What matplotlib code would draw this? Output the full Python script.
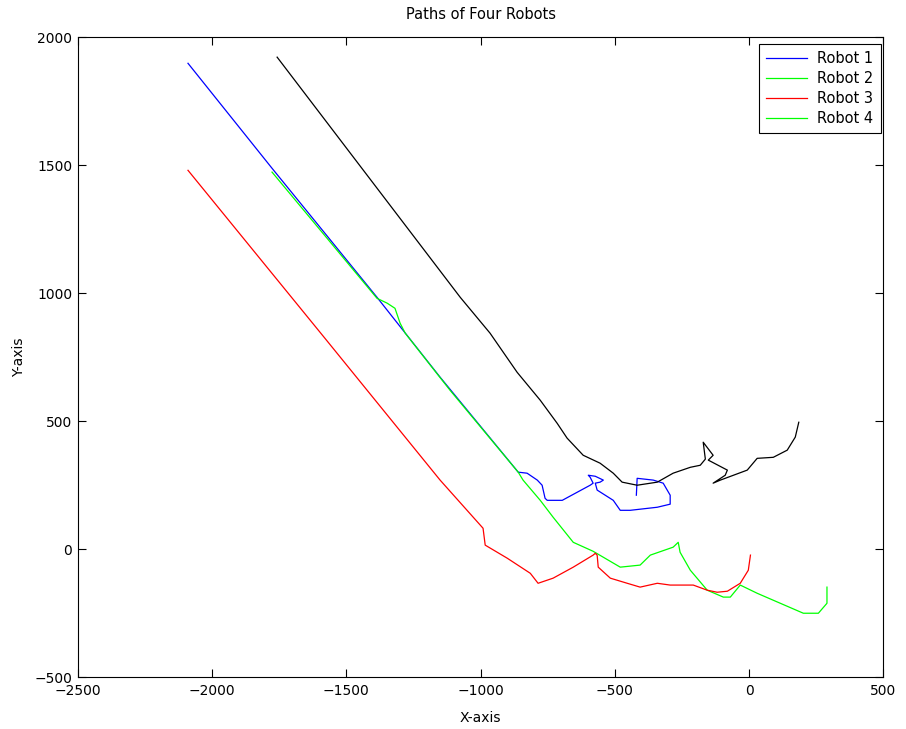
import numpy as np
import matplotlib
matplotlib.use("Agg")
import matplotlib.pyplot as plt

plt.rcParams['font.family'] = ['DejaVu Sans']

# robot paths
r1_x = [-2090, -1777, -1386, -1151, -860, -827, -789, -771, -760, -752, -696,
        -592, -581, -592, -599, -573, -543, -555, -573, -566, -506, -480,
        -443, -342, -294, -294, -320, -357, -417, -420]
r1_y = [1898, 1488, 984, 672, 301, 297, 270, 250, 199, 191, 191,
        250, 258, 281, 289, 285, 270, 262, 258, 231, 191, 152,
        152, 164, 176, 211, 258, 270, 277, 211]

r2_x = [-1777, -1386, -1348, -1319, -1300, -1281, -1114, -860, -842, -778,
        -730, -655, -581, -480, -406, -368, -283, -264, -257, -219, -156,
        -96, -70, -33, 30, 116, 202, 258, 290, 290]
r2_y = [1473, 980, 961, 941, 883, 844, 621, 301, 270, 191,
        125, 27, -8, -70, -62, -23, 8, 27, -12, -82, -160,
        -187, -187, -140, -172, -211, -250, -250, -211, -148]

r3_x = [-2090, -1580, -1151, -991, -983, -901, -815, -786, -730, -655, -581,
        -573, -566, -562, -517, -454, -406, -342, -294, -208, -156, -119,
        -81, -33, -3, 5]
r3_y = [1480, 824, 270, 82, 16, -35, -94, -133, -113, -70, -23,
        -16, -23, -70, -113, -133, -148, -133, -140, -140, -160, -168,
        -164, -133, -82, -23]

r4_x = [-1758, -1076, -965, -864, -778, -715, -678, -618, -555, -506, -473,
        -417, -342, -283, -219, -182, -163, -171, -134, -152, -81, -89,
        -134, -107, -7, 30, 90, 142, 172, 185]
r4_y = [1922, 984, 844, 691, 582, 492, 434, 367, 336, 297, 262,
        250, 262, 297, 320, 328, 352, 418, 367, 348, 309, 289,
        258, 270, 309, 355, 359, 387, 438, 496]

fig = plt.figure(figsize=(9.06, 7.29), dpi=100)
ax = fig.add_axes([0.086, 0.071, 0.889, 0.878])

l1, = ax.plot(r1_x, r1_y, color='blue', linewidth=0.9)
l2, = ax.plot(r2_x, r2_y, color='#00ff00', linewidth=0.9)
l3, = ax.plot(r3_x, r3_y, color='red', linewidth=0.9)
l4, = ax.plot(r4_x, r4_y, color='black', linewidth=0.9)

ax.set_xlim(-2500, 500)
ax.set_ylim(-500, 2000)
ax.set_xticks(np.arange(-2500, 501, 500))
ax.set_yticks(np.arange(-500, 2001, 500))
ax.tick_params(direction='in', top=True, right=True, labelsize=10, length=6)
ax.tick_params(axis='x', pad=5)
ax.tick_params(axis='y', pad=4)

ax.set_title('Paths of Four Robots', fontsize=10.5, pad=13)
ax.set_xlabel('X-axis', fontsize=10, labelpad=9)
ax.set_ylabel('Y-axis', fontsize=10, labelpad=6)

# legend as in the original: fourth entry shown green
leg = ax.legend([l1, l2, l3, l2], ['Robot 1', 'Robot 2', 'Robot 3', 'Robot 4'],
                loc='upper right', bbox_to_anchor=(0.997, 0.99),
                fontsize=10.5, fancybox=False, framealpha=1,
                edgecolor='black', borderaxespad=0, handlelength=2.8,
                handletextpad=0.7, labelspacing=0.35, borderpad=0.5)
leg.get_frame().set_linewidth(0.8)

fig.savefig('out.png', dpi=100)
